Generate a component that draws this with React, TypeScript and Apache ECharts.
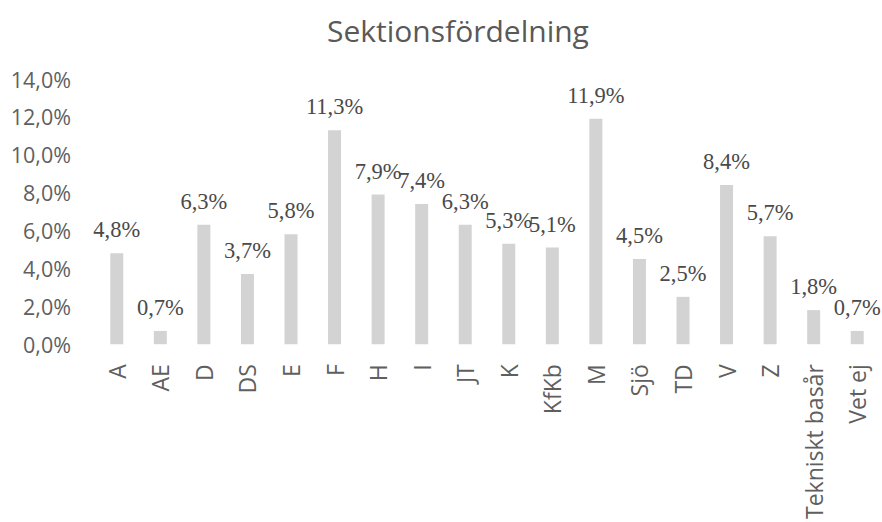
import React, { useEffect, useRef } from "react";
import * as echarts from "echarts";

const categories = [
  "A", "AE", "D", "DS", "E", "F", "H", "I", "JT", "K", "KfKb", "M", "Sjö", "TD", "V", "Z", "Tekniskt basår", "Vet ej",
];
const values = [4.8, 0.7, 6.3, 3.7, 5.8, 11.3, 7.9, 7.4, 6.3, 5.3, 5.1, 11.9, 4.5, 2.5, 8.4, 5.7, 1.8, 0.7];
const yTicks = { min: 0, max: 14, interval: 2 };

const fmt = (v: number) => `${v.toFixed(1).replace(".", ",")}%`;

export default function App() {
  const ref = useRef<HTMLDivElement>(null);
  useEffect(() => {
    if (!ref.current) return;
    const chart = echarts.init(ref.current, undefined, { renderer: "svg" });
    chart.setOption({
      animation: false,
      backgroundColor: "#ffffff",
      title: {
        text: "Sektionsfördelning",
        left: 322,
        top: 10,
        textStyle: { fontFamily: "Open Sans", fontSize: 30, fontWeight: "normal", color: "#595959" },
      },
      grid: { left: 95, right: 3, top: 79, bottom: 172, containLabel: false },
      xAxis: {
        type: "category",
        data: categories,
        axisLine: { show: false },
        axisTick: { show: false },
        axisLabel: {
          rotate: 90,
          margin: 20,
          interval: 0,
          fontFamily: "Open Sans",
          fontSize: 23,
          color: "#5f5f5f",
        },
      },
      yAxis: {
        type: "value",
        min: yTicks.min,
        max: yTicks.max,
        interval: yTicks.interval,
        splitLine: { show: false },
        axisLine: { show: false },
        axisTick: { show: false },
        axisLabel: {
          margin: 24,
          fontFamily: "Open Sans",
          fontSize: 21.5,
          color: "#5f5f5f",
          formatter: (v: number) => fmt(v),
        },
      },
      series: [
        {
          type: "bar",
          data: values,
          barWidth: 13,
          itemStyle: { color: "#d3d3d3" },
          label: {
            show: true,
            position: "top",
            distance: 12,
            fontFamily: "Liberation Serif",
            fontSize: 22.5,
            color: "#4a4a4a",
            formatter: (p: any) => fmt(p.value),
          },
        },
      ],
    });
    return () => chart.dispose();
  }, []);
  return (
    <div
      ref={ref}
      style={{ position: "absolute", left: 0, top: 0, width: 882, height: 522 }}
    />
  );
}
